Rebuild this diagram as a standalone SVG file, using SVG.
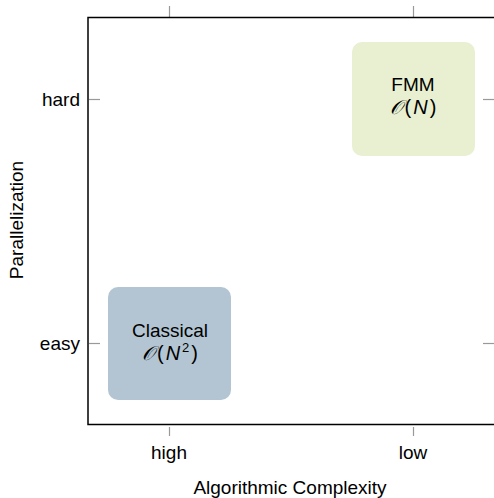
<svg xmlns="http://www.w3.org/2000/svg" width="494" height="498" viewBox="0 0 494 498">
<style>
text{font-family:"Liberation Sans",Arial,sans-serif;fill:#000}
.t{font-size:19px}
.n{font-size:19px;text-anchor:middle}
.m{font-size:20px;text-anchor:middle;letter-spacing:2px}
.o{font-family:"DejaVu Sans","Liberation Serif",serif;font-style:italic}
.tick{stroke:#999;stroke-width:1.2}
</style>
<rect width="494" height="498" fill="#fff"/>
<g id="ticks">
<line class="tick" x1="169.5" y1="6" x2="169.5" y2="17"/>
<line class="tick" x1="413.5" y1="6" x2="413.5" y2="17"/>
<line class="tick" x1="169.5" y1="427" x2="169.5" y2="436"/>
<line class="tick" x1="413.5" y1="427" x2="413.5" y2="436"/>
<line class="tick" x1="89" y1="99.5" x2="100" y2="99.5"/>
<line class="tick" x1="89" y1="343.5" x2="100" y2="343.5"/>
<line class="tick" x1="483" y1="99.5" x2="494" y2="99.5"/>
<line class="tick" x1="483" y1="343.5" x2="494" y2="343.5"/>
</g>
<path id="frame" d="M500,17.5 H88 V424.5 H500" fill="none" stroke="#000" stroke-width="1.5"/>
<g id="axes">
<text class="t" x="80" y="106" text-anchor="end">hard</text>
<text class="t" x="80" y="350" text-anchor="end">easy</text>
<text class="t" x="169" y="459" text-anchor="middle">high</text>
<text class="t" x="413" y="459" text-anchor="middle">low</text>
<text class="t" x="290" y="494" text-anchor="middle">Algorithmic Complexity</text>
<text class="t" transform="translate(23,220) rotate(-90)" text-anchor="middle">Parallelization</text>
</g>
<g id="classical">
<rect x="108" y="287" width="123" height="113" rx="10" fill="#b3c5d3"/>
<text class="n" x="170" y="337">Classical</text>
<text class="m" x="171" y="360"><tspan class="o">𝒪</tspan>(<tspan font-style="italic">N</tspan><tspan font-size="13" dy="-8">2</tspan><tspan dy="8">)</tspan></text>
</g>
<g id="fmm">
<rect x="352" y="42" width="123" height="114" rx="10" fill="#e8f0d1"/>
<text class="n" x="413" y="91">FMM</text>
<text class="m" x="414" y="114"><tspan class="o">𝒪</tspan>(<tspan font-style="italic">N</tspan>)</text>
</g>
</svg>
